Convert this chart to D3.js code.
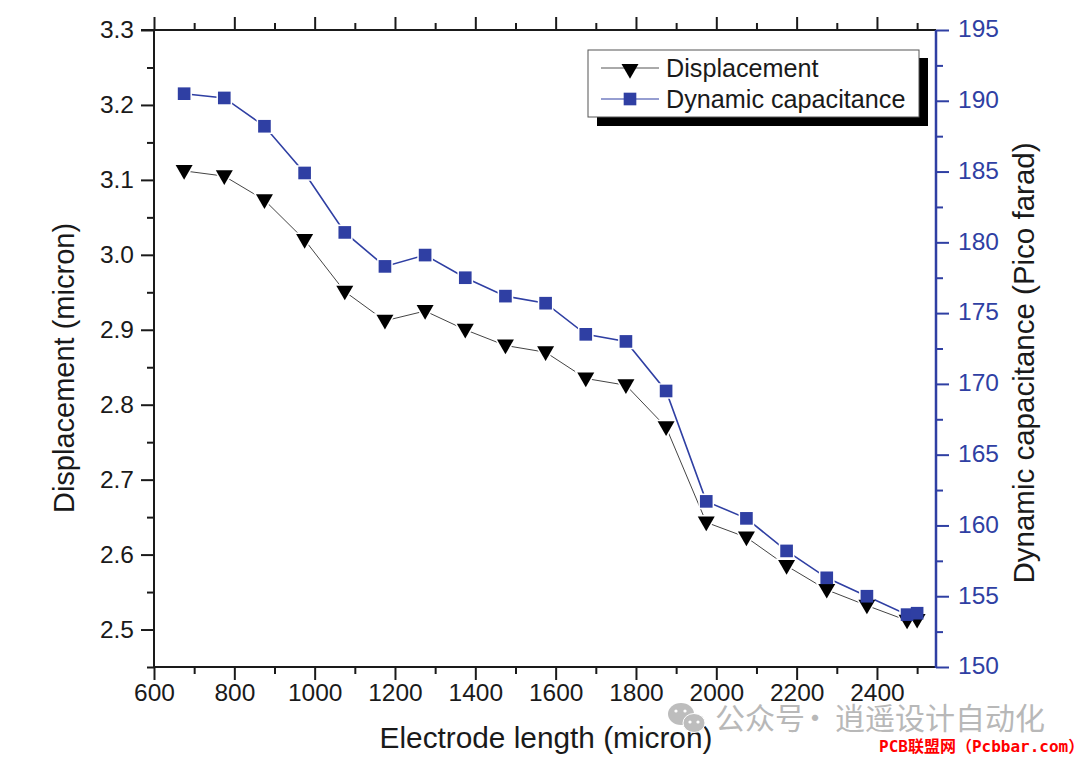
<!DOCTYPE html>
<html><head><meta charset="utf-8">
<script src="https://cdn.jsdelivr.net/npm/d3@7"></script>
<style>html,body{margin:0;padding:0;background:#fff}svg{display:block}text{font-family:"Liberation Sans",Arial,sans-serif}</style>
</head><body><svg id="c" width="1080" height="761"></svg>
<script>
const lengths=[675,775,875,975,1075,1175,1275,1375,1475,1575,1675,1775,1875,1975,2075,2175,2275,2375,2475,2500];
const displacement=[3.112,3.105,3.073,3.02,2.951,2.912,2.925,2.9,2.879,2.87,2.835,2.826,2.77,2.643,2.623,2.585,2.553,2.532,2.512,2.513];
const capacitance=[190.5,190.2,188.2,184.9,180.7,178.3,179.1,177.5,176.2,175.7,173.5,173.0,169.5,161.7,160.5,158.2,156.3,155.0,153.7,153.8];
const xMajor=[600,800,1000,1200,1400,1600,1800,2000,2200,2400];
const xMinor=[700,900,1100,1300,1500,1700,1900,2100,2300,2500];
const leftMajor=[2.5,2.6,2.7,2.8,2.9,3.0,3.1,3.2,3.3];
const leftMinor=[2.45,2.55,2.65,2.75,2.85,2.95,3.05,3.15,3.25];
const rightMajor=[150,155,160,165,170,175,180,185,190,195];
const rightMinor=[152.5,157.5,162.5,167.5,172.5,177.5,182.5,187.5,192.5];
const legendLabels=["Displacement","Dynamic capacitance"];
const BLUE="#2f3fa3",INK="#1a1a1a";
const L=154,R=936,T=30,B=667;
const svg=d3.select("#c");
const x=d3.scaleLinear([600,2547],[L,R]);
const yL=d3.scaleLinear([2.45,3.3],[B,T]);
const yR=d3.scaleLinear([150,195],[B,T]);
const fs=24.5;

function axis(gen,scale,major,minor,pos,color,fmt,labels,pad){
  const g=svg.append("g").attr("transform",pos);
  const mk=(vals,size,lab)=>{
    const a=gen(scale).tickValues(vals).tickSize(size).tickSizeOuter(0);
    a.tickFormat(lab?fmt:"");
    a.tickPadding(pad||0);
    const s=g.append("g").call(a);
    s.select(".domain").remove();
    s.selectAll("line").attr("stroke",color).attr("stroke-width",2);
    s.selectAll("text").attr("font-size",fs).attr("fill",color).attr("font-family",'"Liberation Sans",Arial,sans-serif');
    return s;
  };
  mk(minor,7,false);
  mk(major,13,labels);
  return g;
}
axis(d3.axisBottom,x,xMajor,xMinor,`translate(0,${B})`,INK,d3.format("d"),true,4);
axis(d3.axisBottom,x,xMajor,xMinor,`translate(0,${T})`,INK,d3.format("d"),false,0).selectAll("line").attr("y2",function(){return -(+d3.select(this).attr("y2"));});
axis(d3.axisLeft,yL,leftMajor,leftMinor,`translate(${L},0)`,INK,d3.format(".1f"),true,7);
axis(d3.axisRight,yR,rightMajor,rightMinor,`translate(${R},0)`,BLUE,d3.format("d"),true,9).selectAll("text").attr("y",-1);

svg.append("line").attr("x1",L).attr("x2",R).attr("y1",B).attr("y2",B).attr("stroke",INK).attr("stroke-width",2);
svg.append("line").attr("x1",L-13).attr("x2",R).attr("y1",T).attr("y2",T).attr("stroke",INK).attr("stroke-width",2);
svg.append("line").attr("x1",L).attr("x2",L).attr("y1",T).attr("y2",B).attr("stroke",INK).attr("stroke-width",2);
svg.append("line").attr("x1",R).attr("x2",R).attr("y1",T).attr("y2",B+1).attr("stroke",BLUE).attr("stroke-width",2.5);

const tri=d3.symbol().type(d3.symbolTriangle).size(125)();
const sq=d3.symbol().type(d3.symbolSquare).size(160)();
const seriesList=[
  {vals:displacement,scale:yL,line:"#444",fill:"#000",sw:1,path:tri,rot:180,dy:-1},
  {vals:capacitance,scale:yR,line:BLUE,fill:BLUE,sw:1.6,path:sq,rot:0,dy:0}
];
const pos=s=>(d,i)=>`translate(${x(lengths[i])},${s.scale(d)+s.dy}) rotate(${s.rot})`;
seriesList.forEach(s=>{
  svg.append("path").datum(s.vals).attr("fill","none").attr("stroke",s.line).attr("stroke-width",s.sw)
    .attr("d",d3.line().x((d,i)=>x(lengths[i])).y(d=>s.scale(d)));
  svg.append("g").selectAll("path").data(s.vals).join("path").attr("d",s.path).attr("transform",pos(s)).attr("fill","#fff").attr("stroke","#fff").attr("stroke-width",3);
});
seriesList.forEach(s=>{
  svg.append("g").selectAll("path").data(s.vals).join("path").attr("d",s.path).attr("transform",pos(s)).attr("fill",s.fill);
});

// legend
const lg=svg.append("g");
lg.append("rect").attr("x",597).attr("y",58).attr("width",331).attr("height",68).attr("fill","#000");
lg.append("rect").attr("x",588).attr("y",50).attr("width",331).attr("height",67).attr("fill","#fff").attr("stroke","#555").attr("stroke-width",1);
lg.append("line").attr("x1",601).attr("x2",659).attr("y1",68).attr("y2",68).attr("stroke","#555").attr("stroke-width",1);
lg.append("path").attr("d",tri).attr("transform","translate(630,69) rotate(180)").attr("fill","#000");
lg.append("line").attr("x1",601).attr("x2",659).attr("y1",99).attr("y2",99).attr("stroke",BLUE).attr("stroke-width",1.2);
lg.append("path").attr("d",sq).attr("transform","translate(630,99)").attr("fill",BLUE);
legendLabels.forEach((t,i)=>lg.append("text").attr("x",666).attr("y",[77,108][i]).attr("font-size",25.2).attr("fill",INK).text(t));

// axis titles
svg.append("text").attr("x",546).attr("y",748).attr("text-anchor","middle").attr("font-size",29.8).attr("fill",INK).text("Electrode length (micron)");
svg.append("text").attr("transform","translate(74,368) rotate(-90)").attr("text-anchor","middle").attr("font-size",29).attr("fill",INK).text("Displacement (micron)");
svg.append("text").attr("transform","translate(1034,363) rotate(-90)").attr("text-anchor","middle").attr("font-size",29.5).attr("fill",INK).text("Dynamic capacitance (Pico farad)");

// watermarks
const wm=svg.append("g");
const CJK='font-family:"Noto Sans CJK SC"';
wm.append("ellipse").attr("cx",681).attr("cy",714).attr("rx",13).attr("ry",11).attr("fill","#bdbdbd");
wm.append("ellipse").attr("cx",694).attr("cy",723).attr("rx",11).attr("ry",9.5).attr("fill","#bdbdbd").attr("stroke","#fff").attr("stroke-width",1);
[[676,711],[685,711],[690,722],[698,722]].forEach(p=>wm.append("circle").attr("cx",p[0]).attr("cy",p[1]).attr("r",1.6).attr("fill","#fff"));
wm.append("text").attr("x",715).attr("y",729).attr("font-size",30).attr("fill","#b8b8b8").attr("style",CJK).text("公众号");
wm.append("text").attr("x",815).attr("y",729).attr("text-anchor","middle").attr("font-size",30).attr("fill","#b8b8b8").attr("style",CJK).text("·");
wm.append("text").attr("x",835).attr("y",729).attr("font-size",30).attr("fill","#b8b8b8").attr("style",CJK).text("逍遥设计自动化");
svg.append("text").attr("x",879).attr("y",752).attr("font-size",16).attr("font-weight","bold").attr("fill","#f00").attr("style",'font-family:"DejaVu Sans Mono","Noto Sans CJK SC"').text("PCB联盟网（Pcbbar.com）");
</script></body></html>
